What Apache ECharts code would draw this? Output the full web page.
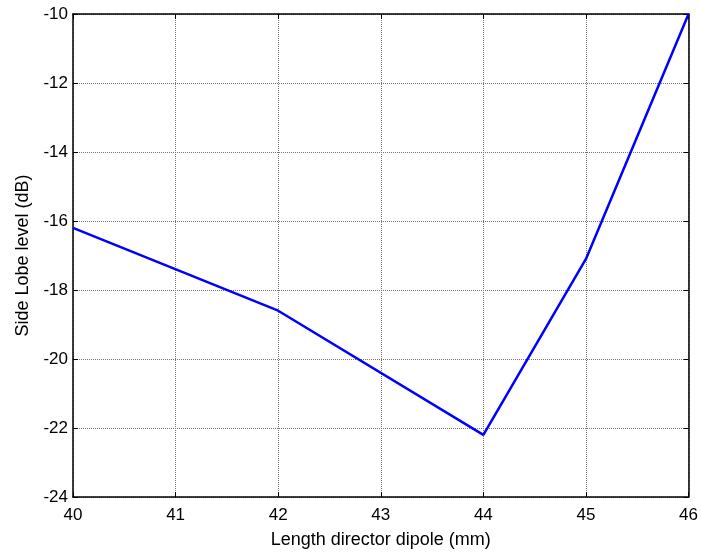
<!DOCTYPE html>
<html>
<head>
<meta charset="utf-8">
<script src="https://cdn.jsdelivr.net/npm/echarts@6/dist/echarts.min.js"></script>
</head>
<body style="margin:0">
<div id="main" style="width:701px;height:554px;"></div>
<script>
var lengths = [40, 42, 44, 45, 46];
var sideLobe = [-16.2, -18.6, -22.2, -17.1, -10];

var chart = echarts.init(document.getElementById('main'), null, {renderer: 'canvas'});
var font = 'Liberation Sans, Arial, sans-serif';
var gridLine = {show: true, lineStyle: {color: '#777', type: [1, 1], width: 1}};
var axisLine = {show: true, onZero: false, lineStyle: {color: '#000', width: 1.5}};
var tick = {show: true, inside: true, length: 5, lineStyle: {color: '#000'}};

chart.setOption({
    animation: false,
    backgroundColor: '#fff',
    grid: {left: 73, right: 10, top: 14, bottom: 56, containLabel: false},
    xAxis: [{
        type: 'value', min: 40, max: 46, interval: 1,
        name: 'Length director dipole (mm)', nameLocation: 'middle', nameGap: 34,
        nameTextStyle: {fontFamily: font, fontSize: 18, color: '#000'},
        axisLine: axisLine, axisTick: tick, splitLine: gridLine,
        axisLabel: {fontFamily: font, fontSize: 17, color: '#000', margin: 10}
    }, {
        type: 'value', min: 40, max: 46, interval: 1, position: 'top',
        axisLine: axisLine, axisTick: tick, splitLine: {show: false},
        axisLabel: {show: false}
    }],
    yAxis: [{
        type: 'value', min: -24, max: -10, interval: 2,
        name: 'Side Lobe level (dB)', nameLocation: 'middle', nameGap: 36,
        nameTextStyle: {fontFamily: font, fontSize: 18, color: '#000'},
        axisLine: axisLine, axisTick: tick, splitLine: gridLine,
        axisLabel: {fontFamily: font, fontSize: 17, color: '#000', margin: 5}
    }, {
        type: 'value', min: -24, max: -10, interval: 2, position: 'right',
        axisLine: axisLine, axisTick: tick, splitLine: {show: false},
        axisLabel: {show: false}
    }],
    series: [{
        type: 'line',
        data: lengths.map(function (x, i) { return [x, sideLobe[i]]; }),
        showSymbol: false,
        lineStyle: {color: '#0000ff', width: 2.5},
        itemStyle: {color: '#0000ff'}
    }]
});
</script>
</body>
</html>
